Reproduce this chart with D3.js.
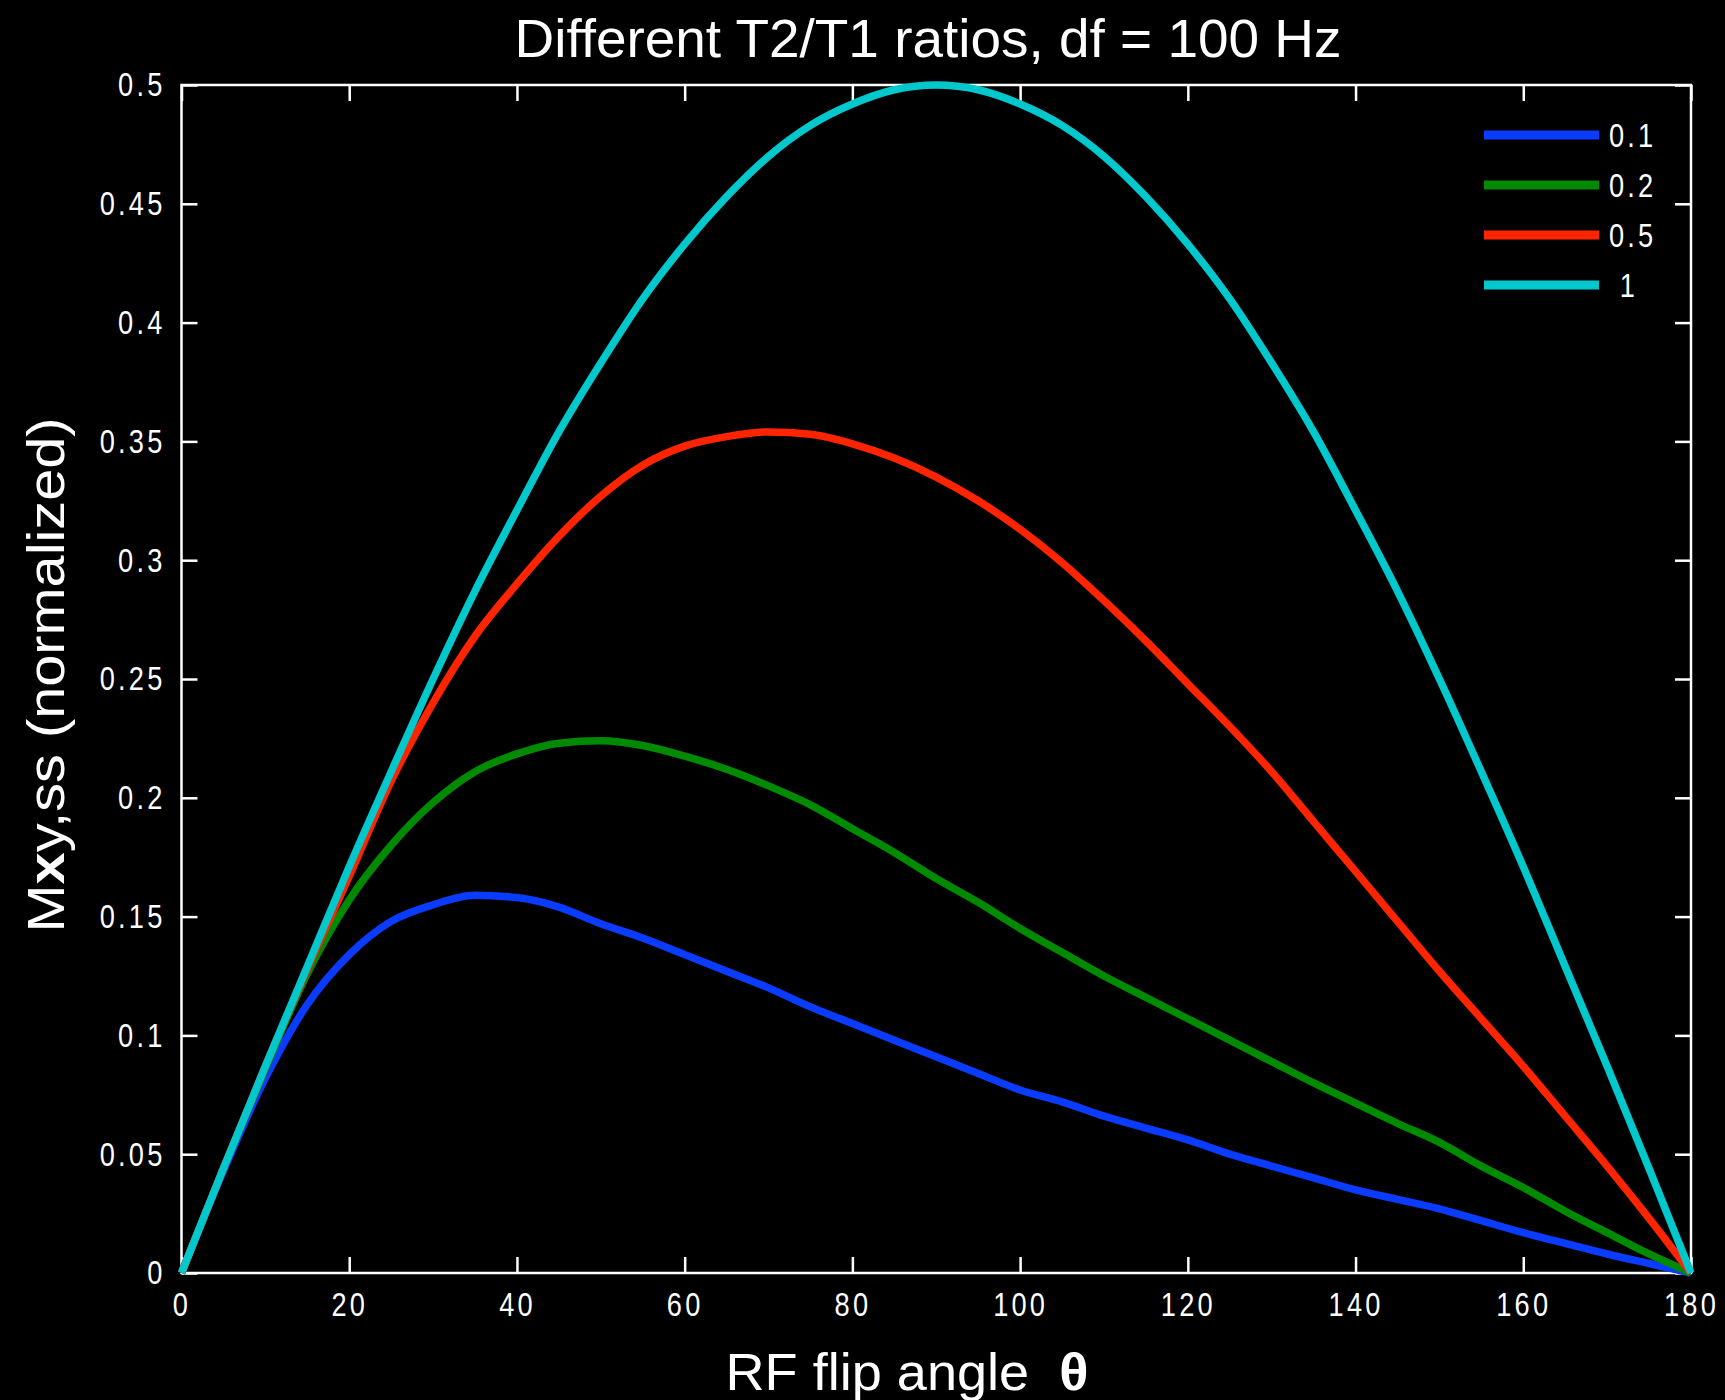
<!DOCTYPE html>
<html>
<head>
<meta charset="utf-8">
<script src="https://cdnjs.cloudflare.com/ajax/libs/d3/7.8.5/d3.min.js"></script>
<style>
  html, body { margin: 0; padding: 0; background: #000; }
  svg { display: block; }
  text { fill: #fff; font-family: "Liberation Sans", Arial, sans-serif; }
</style>
</head>
<body>
<div id="chart"></div>
<script>
// flip angle (deg) and Mxy,ss for each T2/T1 ratio
var flipAngles = [0, 5, 10, 15, 20, 25, 30, 35, 40, 45, 50, 55, 60, 65, 70, 75, 80, 85, 90,
                  95, 100, 105, 110, 115, 120, 125, 130, 135, 140, 145, 150, 155, 160, 165, 170, 175, 180];

var ratio01 = [0, 0.043, 0.082, 0.113, 0.134, 0.148, 0.155, 0.159, 0.158, 0.154, 0.147, 0.141, 0.134,
               0.127, 0.120, 0.112, 0.105, 0.098, 0.091, 0.084, 0.077, 0.072, 0.066, 0.061, 0.056, 0.050,
               0.045, 0.040, 0.035, 0.031, 0.027, 0.022, 0.017, 0.0125, 0.008, 0.004, 0];

var ratio02 = [0, 0.044, 0.086, 0.126, 0.157, 0.180, 0.198, 0.211, 0.2185, 0.223, 0.224, 0.222, 0.2175,
               0.212, 0.205, 0.197, 0.187, 0.177, 0.166, 0.156, 0.145, 0.135, 0.125, 0.116, 0.107, 0.098,
               0.089, 0.080, 0.0715, 0.063, 0.055, 0.045, 0.036, 0.026, 0.017, 0.008, 0];

var ratio05 = [0, 0.044, 0.087, 0.128, 0.167, 0.207, 0.240, 0.268, 0.290, 0.310, 0.327, 0.340, 0.348,
               0.352, 0.354, 0.353, 0.349, 0.343, 0.335, 0.325, 0.313, 0.299, 0.283, 0.266, 0.248, 0.230,
               0.211, 0.190, 0.169, 0.148, 0.127, 0.107, 0.087, 0.066, 0.045, 0.023, 0];

var ratio1 = [0, 0.044, 0.087, 0.129, 0.171, 0.211, 0.250, 0.287, 0.321, 0.354, 0.383, 0.410, 0.433,
              0.453, 0.470, 0.483, 0.492, 0.498, 0.500, 0.498, 0.492, 0.483, 0.470, 0.453, 0.433, 0.410,
              0.383, 0.354, 0.321, 0.287, 0.250, 0.211, 0.171, 0.129, 0.087, 0.044, 0];

var seriesNames = ["0.1", "0.2", "0.5", " 1"];
var seriesValues = [ratio01, ratio02, ratio05, ratio1];
var seriesColors = ["#0a3cff", "#008a00", "#ff2400", "#00c8cc"];

var xTicks = [0, 20, 40, 60, 80, 100, 120, 140, 160, 180];
var yTicks = [0, 0.05, 0.1, 0.15, 0.2, 0.25, 0.3, 0.35, 0.4, 0.45, 0.5];

var w = 1725;
var h = 1400;
// note: "top" is taken by window.top, so plot edges get their own names
var plotLeft = 181.5, plotRight = 1691, plotTop = 85, plotBottom = 1273;
var tickLen = 16;
var squeeze = 0.8;   // narrow look of the tick font

var svg = d3.select("#chart")
  .append("svg")
  .attr("width", w)
  .attr("height", h)
  .style("background", "#000");

var x = d3.scaleLinear().domain([0, 180]).range([plotLeft, plotRight]);
var y = d3.scaleLinear().domain([0, 0.5]).range([plotBottom, plotTop]);

function styleAxis(g) {
  g.select(".domain").remove();
  g.selectAll(".tick line").attr("stroke", "#fff").attr("stroke-width", 2.5);
  g.selectAll("text")
    .attr("fill", "#fff")
    .style("font-family", "'Liberation Sans', Arial, sans-serif")
    .style("font-size", "34px")
    .style("letter-spacing", "4px");
}

// bottom axis with labels
var gx = svg.append("g")
  .attr("transform", "translate(0," + plotBottom + ")")
  .call(d3.axisBottom(x).tickValues(xTicks).tickSizeInner(-tickLen).tickSizeOuter(0)
    .tickPadding(19).tickFormat(d3.format("d")));
styleAxis(gx);
gx.selectAll("text").attr("transform", "scale(" + squeeze + ",1)");

// left axis with labels
var gy = svg.append("g")
  .attr("transform", "translate(" + plotLeft + ",0)")
  .call(d3.axisLeft(y).tickValues(yTicks).tickSizeInner(-tickLen).tickSizeOuter(0)
    .tickPadding(16).tickFormat(function(d) { return String(+d.toFixed(2)); }));
styleAxis(gy);
gy.selectAll("text")
  .attr("x", -16 / squeeze)
  .attr("transform", "scale(" + squeeze + ",1)");

// top and right: ticks only
var gt = svg.append("g")
  .attr("transform", "translate(0," + plotTop + ")")
  .call(d3.axisTop(x).tickValues(xTicks).tickSizeInner(-tickLen).tickSizeOuter(0).tickFormat(""));
styleAxis(gt);
var gr = svg.append("g")
  .attr("transform", "translate(" + plotRight + ",0)")
  .call(d3.axisRight(y).tickValues(yTicks).tickSizeInner(-tickLen).tickSizeOuter(0).tickFormat(""));
styleAxis(gr);

// box
svg.append("rect")
  .attr("x", plotLeft)
  .attr("y", plotTop)
  .attr("width", plotRight - plotLeft)
  .attr("height", plotBottom - plotTop)
  .attr("fill", "none")
  .attr("stroke", "#fff")
  .attr("stroke-width", 2.5);

// curves
var line = d3.line()
  .x(function(d) { return x(d[0]); })
  .y(function(d) { return y(d[1]); })
  .curve(d3.curveMonotoneX);

svg.selectAll("path.curve")
  .data(seriesValues)
  .enter()
  .append("path")
  .attr("class", "curve")
  .attr("d", function(vals) {
    return line(flipAngles.map(function(a, i) { return [a, vals[i]]; }));
  })
  .attr("fill", "none")
  .attr("stroke", function(d, i) { return seriesColors[i]; })
  .attr("stroke-width", 7.5)
  .attr("stroke-linejoin", "round");

// legend
var legend = svg.append("g");
var legendY = d3.scaleLinear().domain([0, 3]).range([135, 285]);

legend.selectAll("line")
  .data(seriesNames)
  .enter()
  .append("line")
  .attr("x1", 1484)
  .attr("x2", 1599)
  .attr("y1", function(d, i) { return legendY(i); })
  .attr("y2", function(d, i) { return legendY(i); })
  .attr("stroke", function(d, i) { return seriesColors[i]; })
  .attr("stroke-width", 9);

legend.selectAll("text")
  .data(seriesNames)
  .enter()
  .append("text")
  .attr("x", 1609 / squeeze)
  .attr("y", function(d, i) { return legendY(i); })
  .attr("dy", "0.36em")
  .attr("transform", "scale(" + squeeze + ",1)")
  .style("font-size", "34px")
  .style("letter-spacing", "4px")
  .style("white-space", "pre")
  .text(function(d) { return d; });

// title
svg.append("text")
  .attr("x", 928)
  .attr("y", 57)
  .attr("text-anchor", "middle")
  .attr("textLength", 827)
  .attr("lengthAdjust", "spacingAndGlyphs")
  .style("font-size", "54px")
  .text("Different T2/T1 ratios, df = 100 Hz");

// x label
var xl = svg.append("text")
  .attr("x", 907)
  .attr("y", 1390)
  .attr("text-anchor", "middle")
  .attr("textLength", 363)
  .attr("lengthAdjust", "spacingAndGlyphs")
  .style("font-size", "52px")
  .style("white-space", "pre");
xl.append("tspan").text("RF flip angle  ");
xl.append("tspan").style("font-weight", "bold").text("\u03b8");

// y label
var yl = svg.append("text")
  .attr("transform", "translate(64,675) rotate(-90)")
  .attr("text-anchor", "middle")
  .attr("textLength", 515)
  .attr("lengthAdjust", "spacingAndGlyphs")
  .style("font-size", "52px");
yl.append("tspan").text("M");
yl.append("tspan").style("font-weight", "bold").text("x");
yl.append("tspan").text("y,ss (normalized)");
</script>
</body>
</html>
